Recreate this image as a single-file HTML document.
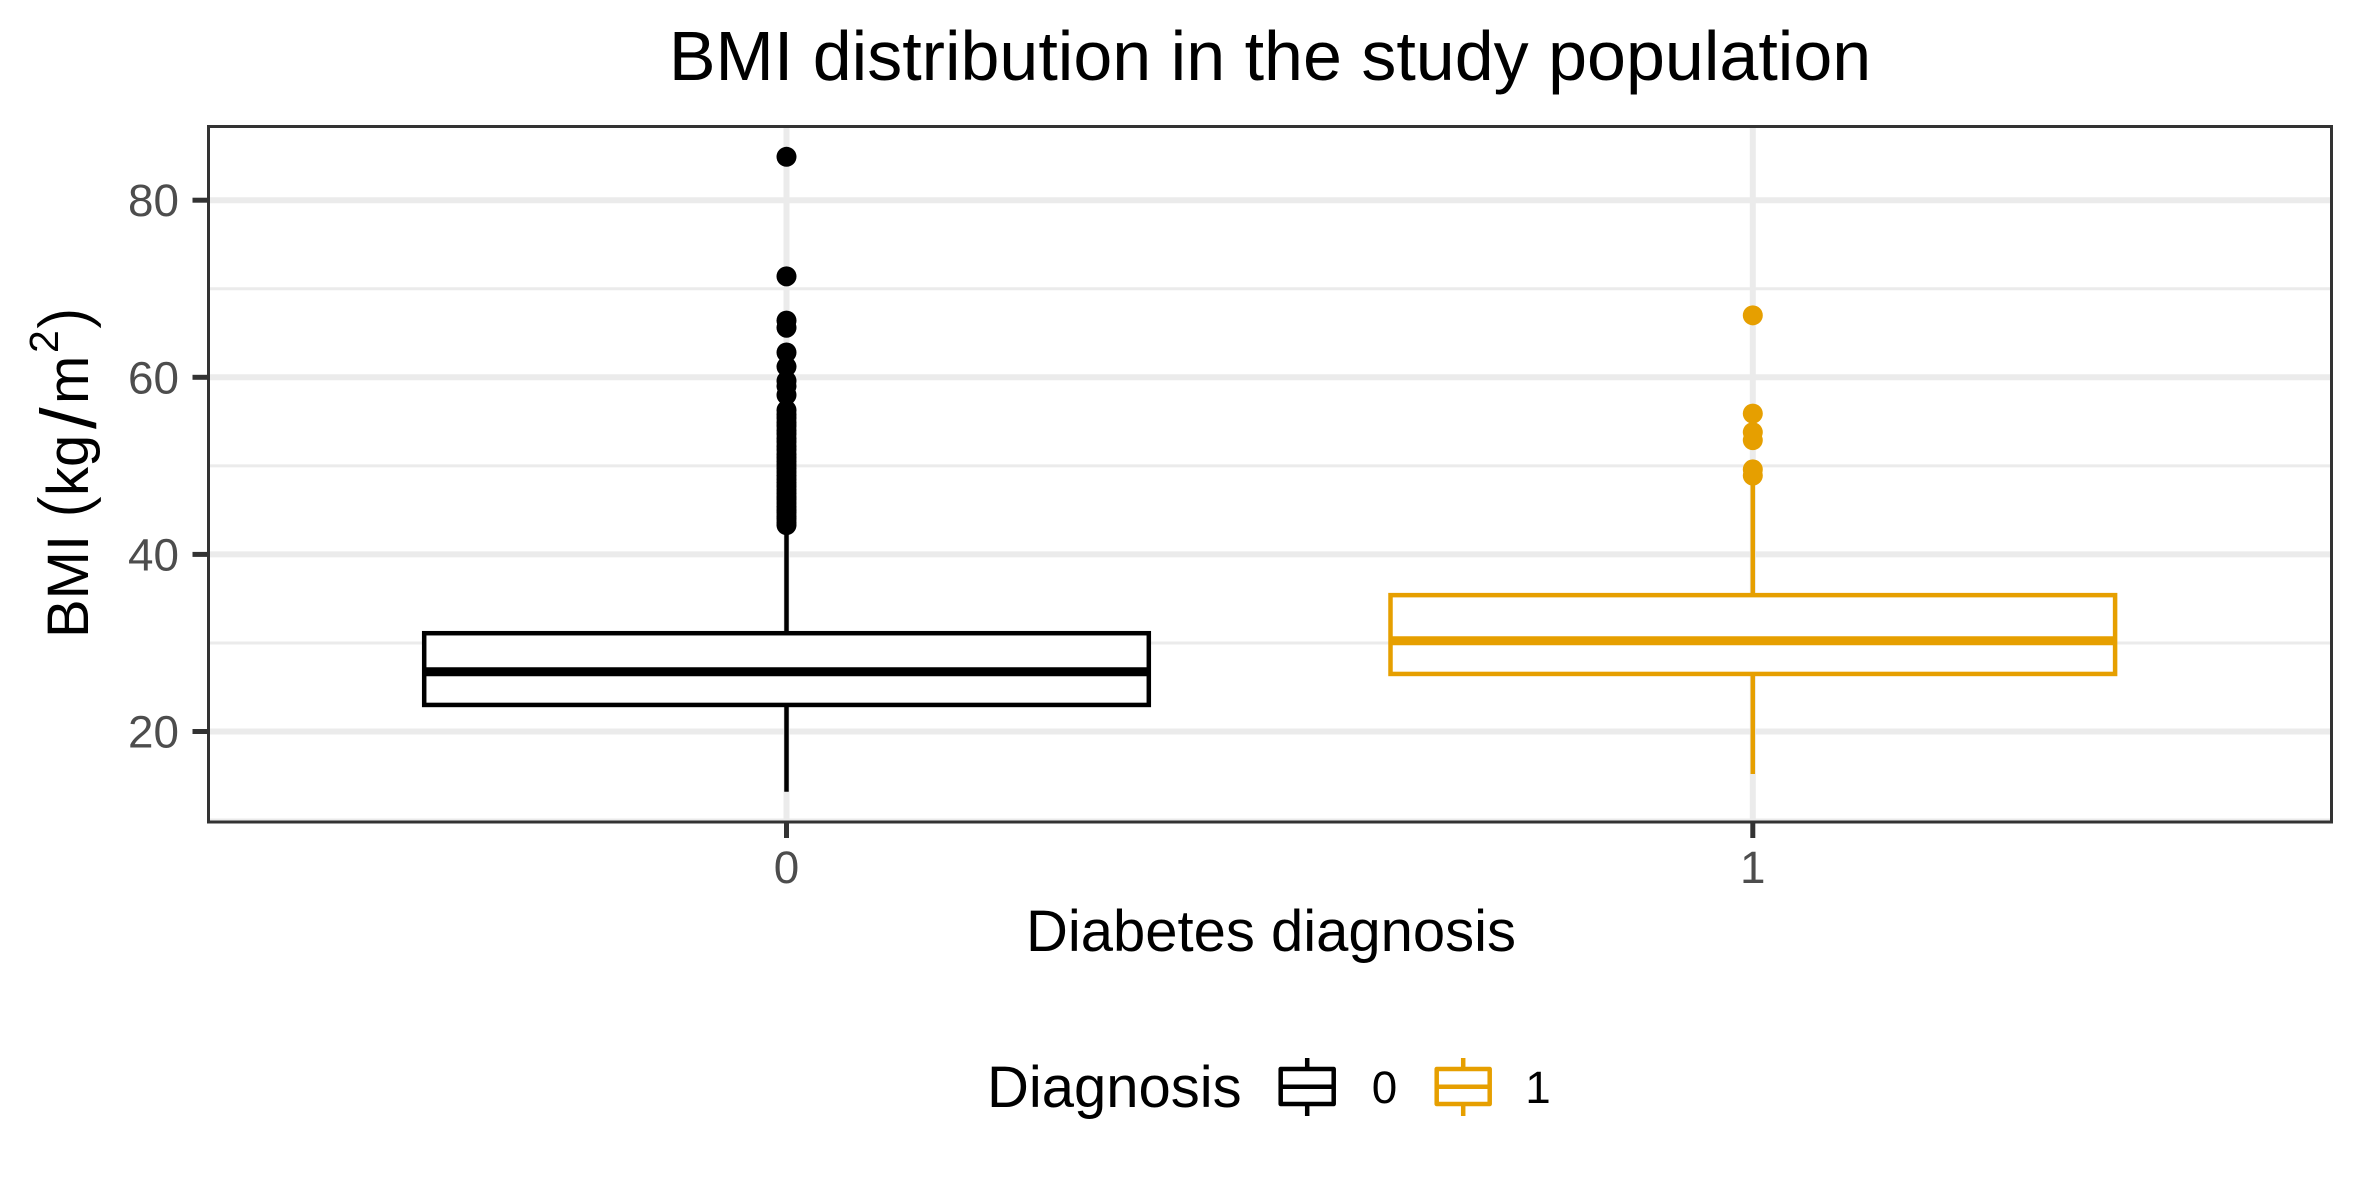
<!DOCTYPE html>
<html lang="en">
<head>
<meta charset="utf-8">
<title>BMI distribution in the study population</title>
<style>
html,body{margin:0;padding:0;background:#fff}
svg{display:block;font-family:"Liberation Sans",Arial,sans-serif}
</style>
</head>
<body>
<svg id="chart" xmlns="http://www.w3.org/2000/svg" width="2362" height="1181" viewBox="0 0 2362 1181">
  <rect x="0" y="0" width="2362" height="1181" fill="#ffffff"/>
  <g id="grid"></g>
  <g id="marks"></g>
  <rect x="208.5" y="126.5" width="2123" height="695.5" fill="none" stroke="#333333" stroke-width="3"/>
  <g id="axes"></g>
  <text x="1270" y="80" font-size="70" text-anchor="middle" fill="#000">BMI distribution in the study population</text>
  <text x="1271" y="951" font-size="58" text-anchor="middle" fill="#000">Diabetes diagnosis</text>
  <text transform="translate(88,0) rotate(-90)" font-size="58" fill="#000"><tspan x="-638">BMI</tspan><tspan x="-518.5" y="-1" font-size="70" stroke="#ffffff" stroke-width="1.2">(</tspan><tspan x="-496" y="0">kg</tspan><tspan x="-429" y="7.5" font-size="78">/</tspan><tspan x="-404" y="0">m</tspan><tspan x="-353" y="-30" font-size="41">2</tspan><tspan x="-330" y="-1" font-size="70" stroke="#ffffff" stroke-width="1.2">)</tspan></text>
  <g id="legend">
    <text x="987" y="1107" font-size="58" fill="#000">Diagnosis</text>
  </g>
</svg>
<script>
const categories = ["0", "1"];
const q1Values = [23.0, 26.5];
const medianValues = [26.75, 30.25];
const q3Values = [31.1, 35.4];
const whiskerLowValues = [13.2, 15.2];
const whiskerHighValues = [43.2, 48.5];
const outliers0 = [84.9, 71.4, 66.4, 65.6, 62.8, 61.2, 59.6, 59.0, 58.0, 56.3, 55.8, 55.4, 54.9, 54.5, 54.0, 53.6, 53.1, 52.7, 52.2, 51.8, 51.3, 50.9, 50.5, 50.1, 49.7, 49.3, 48.9, 48.5, 48.1, 47.7, 47.3, 46.9, 46.5, 46.2, 45.8, 45.4, 45.0, 44.7, 44.3, 44.0, 43.6, 43.3];
const outliers1 = [67.0, 55.9, 53.8, 52.9, 49.6, 48.9];
const yMajorTicks = [20, 40, 60, 80];
const yMinorTicks = [10, 30, 50, 70];
const yTickLabels = ["20", "40", "60", "80"];
const legendLabels = ["0", "1"];

const SVG_NS = "http://www.w3.org/2000/svg";
const PANEL = { left: 208.5, right: 2331.5, top: 126.5, bottom: 822 };
const seriesColors = ["#000000", "#E69F00"];
function yScale(v) { return 731.5 - (v - 20) * 8.855; }
function xScale(i) { return 786.5 + 966.3 * i; }
const BOX_HALF = 362.3;

function make(tag, attrs, parent, text) {
  const node = document.createElementNS(SVG_NS, tag);
  for (const k in attrs) node.setAttribute(k, attrs[k]);
  if (text !== undefined) node.textContent = text;
  parent.appendChild(node);
  return node;
}

const grid = document.getElementById("grid");
const marks = document.getElementById("marks");
const axes = document.getElementById("axes");
const legend = document.getElementById("legend");

yMinorTicks.forEach(function (v) {
  const el = make("line", { x1: PANEL.left, x2: PANEL.right, y1: yScale(v), y2: yScale(v), stroke: "#ebebeb", "stroke-width": 3 }, grid);
  
  
});
yMajorTicks.forEach(function (v) {
  const el = make("line", { x1: PANEL.left, x2: PANEL.right, y1: yScale(v), y2: yScale(v), stroke: "#ebebeb", "stroke-width": 6 }, grid);
  
  
});
categories.forEach(function (c, i) {
  const el = make("line", { x1: xScale(i), x2: xScale(i), y1: PANEL.top, y2: PANEL.bottom, stroke: "#ebebeb", "stroke-width": 6 }, grid);
  
  
});

categories.forEach(function (c, i) {
  const color = seriesColors[i];
  const cx = xScale(i);
  const group = make("g", {}, marks);
  
  

  const outlierValues = i === 0 ? outliers0 : outliers1;
  outlierValues.forEach(function (v) {
    const dot = make("circle", { cx: cx, cy: yScale(v), r: 10, fill: color }, group);
    
    
  });

  const upper = make("line", { x1: cx, x2: cx, y1: yScale(q3Values[i]), y2: yScale(whiskerHighValues[i]), stroke: color, "stroke-width": 4.5 }, group);
  
  

  const lower = make("line", { x1: cx, x2: cx, y1: yScale(q1Values[i]), y2: yScale(whiskerLowValues[i]), stroke: color, "stroke-width": 4.5 }, group);
  
  

  const box = make("rect", { x: cx - BOX_HALF, width: BOX_HALF * 2, y: yScale(q3Values[i]), height: yScale(q1Values[i]) - yScale(q3Values[i]), fill: "#ffffff", stroke: color, "stroke-width": 4.5 }, group);
  
  

  const median = make("line", { x1: cx - BOX_HALF, x2: cx + BOX_HALF, y1: yScale(medianValues[i]), y2: yScale(medianValues[i]), stroke: color, "stroke-width": 9 }, group);
  
  
});

yMajorTicks.forEach(function (v, i) {
  const tick = make("line", { x1: PANEL.left - 16, x2: PANEL.left, y1: yScale(v), y2: yScale(v), stroke: "#333333", "stroke-width": 5 }, axes);
  
  
  const label = make("text", { x: 179, y: yScale(v) + 16, "font-size": 45.8, "text-anchor": "end", fill: "#4d4d4d" }, axes, yTickLabels[i]);
  
  
});
categories.forEach(function (c, i) {
  const tick = make("line", { x1: xScale(i), x2: xScale(i), y1: PANEL.bottom, y2: PANEL.bottom + 16, stroke: "#333333", "stroke-width": 5 }, axes);
  
  
  const label = make("text", { x: xScale(i), y: 883, "font-size": 45.8, "text-anchor": "middle", fill: "#4d4d4d" }, axes, c);
  
  
});

legendLabels.forEach(function (c, i) {
  const color = seriesColors[i];
  const left = 1280.7 + 156 * i;
  const mid = left + 26.5;
  const key = make("g", {}, legend);
  
  
  make("line", { x1: mid, x2: mid, y1: 1058, y2: 1116, stroke: color, "stroke-width": 4.5 }, key);
  make("rect", { x: left, y: 1069, width: 53, height: 35, fill: "#ffffff", stroke: color, "stroke-width": 4.5, "stroke-linejoin": "round" }, key);
  make("line", { x1: left, x2: left + 53, y1: 1086.7, y2: 1086.7, stroke: color, "stroke-width": 4.5 }, key);
  const label = make("text", { x: 1384.5 + 153.5 * i, y: 1103, "font-size": 45.8, "text-anchor": "middle", fill: "#000" }, legend, c);
  
  
});
</script>
</body>
</html>
